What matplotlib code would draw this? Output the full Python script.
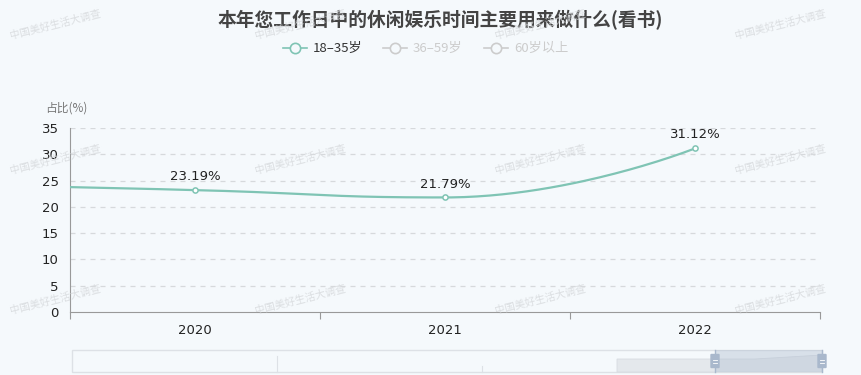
import matplotlib
matplotlib.use("Agg")
import matplotlib.pyplot as plt
from matplotlib.patches import Rectangle, FancyBboxPatch, Polygon
import numpy as np

plt.rcParams['font.family'] = ['Noto Sans CJK SC', 'DejaVu Sans']

# data
years = ['2020', '2021', '2022']
values = [23.19, 21.79, 31.12]
value_2019 = 24.3          # off-screen point, only its curve shows at the left edge
title = '本年您工作日中的休闲娱乐时间主要用来做什么(看书)'
legend_labels = ['18–35岁', '36–59岁', '60岁以上']
y_ticks = [0, 5, 10, 15, 20, 25, 30, 35]
watermark = '中国美好生活大调查'

bg = '#f5f9fc'
line_color = '#7fc4b4'
W, H = 862, 375


def smooth_curve(xs, ys, sx, sy, smooth=0.5, n=60):
    """bezier smoothing in pixel space, flat tangent at local extremes"""
    px = np.asarray(xs, float) * sx
    py = np.asarray(ys, float) * sy
    m = len(px)
    cps = []
    for i in range(m):
        pi = max(i - 1, 0)
        ni = min(i + 1, m - 1)
        vx, vy = px[ni] - px[pi], py[ni] - py[pi]
        if 0 < i < m - 1 and (py[i] - py[pi]) * (py[ni] - py[i]) < 0:
            vy = 0
        d0 = np.hypot(px[i] - px[pi], py[i] - py[pi])
        d1 = np.hypot(px[ni] - px[i], py[ni] - py[i])
        r = d1 / (d0 + d1) if d0 + d1 > 0 else 0.5
        c0 = (px[i] - vx * smooth * (1 - r), py[i] - vy * smooth * (1 - r))
        c1 = (px[i] + vx * smooth * r, py[i] + vy * smooth * r)
        if i == 0 or i == m - 1:
            c0 = (px[i], py[i])
        cps.append((c0, c1))
    outx, outy = [], []
    t = np.linspace(0, 1, n)
    for i in range(m - 1):
        p0 = np.array([px[i], py[i]])
        p1 = np.array(cps[i][1])
        p2 = np.array(cps[i + 1][0])
        p3 = np.array([px[i + 1], py[i + 1]])
        b = ((1 - t) ** 3)[:, None] * p0 + (3 * (1 - t) ** 2 * t)[:, None] * p1 \
            + (3 * (1 - t) * t ** 2)[:, None] * p2 + (t ** 3)[:, None] * p3
        outx.extend(b[:, 0] / sx)
        outy.extend(b[:, 1] / sy)
    return np.array(outx), np.array(outy)


fig = plt.figure(figsize=(W / 100, H / 100), dpi=100)
fig.patch.set_facecolor(bg)

# plot area in pixels: x 70..820, y 128..312
ax = fig.add_axes([70 / W, 1 - 312 / H, 750 / W, 184 / H])
ax.set_facecolor(bg)
ax.set_xlim(-0.5, len(years) - 0.5)
ax.set_ylim(0, 35)

idx = np.arange(len(years))
cx, cy = smooth_curve(np.r_[-1, idx], np.r_[value_2019, values], 250, 5.257)
ax.plot(cx, cy, color=line_color, lw=1.6, zorder=3)
ax.scatter(idx, values, s=14, facecolor='white', edgecolor=line_color, lw=1.1, zorder=4)
for i, v in zip(idx, values):
    ax.annotate(f'{v:.2f}%', (i, v), xytext=(0, 5), textcoords='offset points',
                ha='center', va='bottom', fontsize=9.5, color='#222222',
                family=['DejaVu Sans'])

ax.set_yticks(y_ticks)
ax.set_yticklabels([str(t) for t in y_ticks], family=['DejaVu Sans'])
for t in y_ticks[1:]:
    ax.axhline(t, color='#d6d9dc', lw=0.9, ls=(0, (4, 4)), zorder=1)
ax.set_xticks(idx)
ax.set_xticklabels(years, family=['DejaVu Sans'])
ax.set_xticks(np.arange(len(years) + 1) - 0.5, minor=True)
ax.tick_params(axis='x', which='major', length=0, pad=9, labelsize=9.5, colors='#222222')
ax.tick_params(axis='x', which='minor', length=5, color='#999999', width=0.8)
ax.tick_params(axis='y', length=0, pad=8, labelsize=9.5, colors='#222222')
for s in ['top', 'right']:
    ax.spines[s].set_visible(False)
ax.spines['left'].set_color('#999999')
ax.spines['bottom'].set_color('#999999')
ax.spines['left'].set_linewidth(0.8)
ax.spines['bottom'].set_linewidth(0.8)

fig.text(45 / W, 1 - 108 / H, '占比(%)', fontsize=8.5, color='#777777', va='center')

# overlay in pixel coordinates for title, legend, slider and watermarks
ov = fig.add_axes([0, 0, 1, 1], facecolor='none')
ov.set_xlim(0, W)
ov.set_ylim(H, 0)
ov.axis('off')

ov.text(440, 20, title, ha='center', va='center', fontsize=13.5,
        fontweight='bold', color='#444444')

leg_x = [283, 383, 484]
leg_colors = [line_color, '#cccccc', '#cccccc']
txt_colors = ['#333333', '#cccccc', '#cccccc']
for x0, lab, lc, tc in zip(leg_x, legend_labels, leg_colors, txt_colors):
    ov.plot([x0, x0 + 24], [48, 48], color=lc, lw=1.2)
    ov.scatter([x0 + 12], [48], s=55, facecolor=bg, edgecolor=lc, lw=1.2, zorder=5)
    ov.text(x0 + 30, 48, lab, va='center', fontsize=9.5, color=tc)

# data zoom slider
ov.add_patch(Rectangle((72, 350), 750, 22, facecolor='none', edgecolor='#dde1e6', lw=1))
ov.add_patch(Polygon([(617, 372), (617, 359), (715, 359), (755, 359), (822, 355), (822, 372)],
                     closed=True, facecolor='#e4e8ec', edgecolor='#d6dbe1', lw=0.6))
ov.plot([277, 277], [356, 372], color='#dde1e6', lw=0.8)
ov.plot([482, 482], [366, 372], color='#dde1e6', lw=0.8)
ov.add_patch(Rectangle((715, 350), 107, 22, facecolor='#b6c3d4', alpha=0.45, edgecolor='none'))
for hx in [715, 822]:
    ov.plot([hx, hx], [350, 372], color='#a9b8cc', lw=1)
    ov.add_patch(FancyBboxPatch((hx - 3.5, 355), 7, 12, boxstyle='round,pad=0.5',
                                facecolor='#a9b8cc', edgecolor='#a9b8cc'))
    ov.plot([hx - 2, hx + 2], [359.5, 359.5], color='white', lw=0.6)
    ov.plot([hx - 2, hx + 2], [362.5, 362.5], color='white', lw=0.6)

# watermarks
for wy in [25, 160, 300]:
    for wx in [55, 300, 540, 780]:
        ov.text(wx, wy, watermark, ha='center', va='center', fontsize=7.5,
                rotation=14, color='#d6d9dc', alpha=0.85, zorder=10)

fig.savefig('out.png', dpi=100, facecolor=bg)
